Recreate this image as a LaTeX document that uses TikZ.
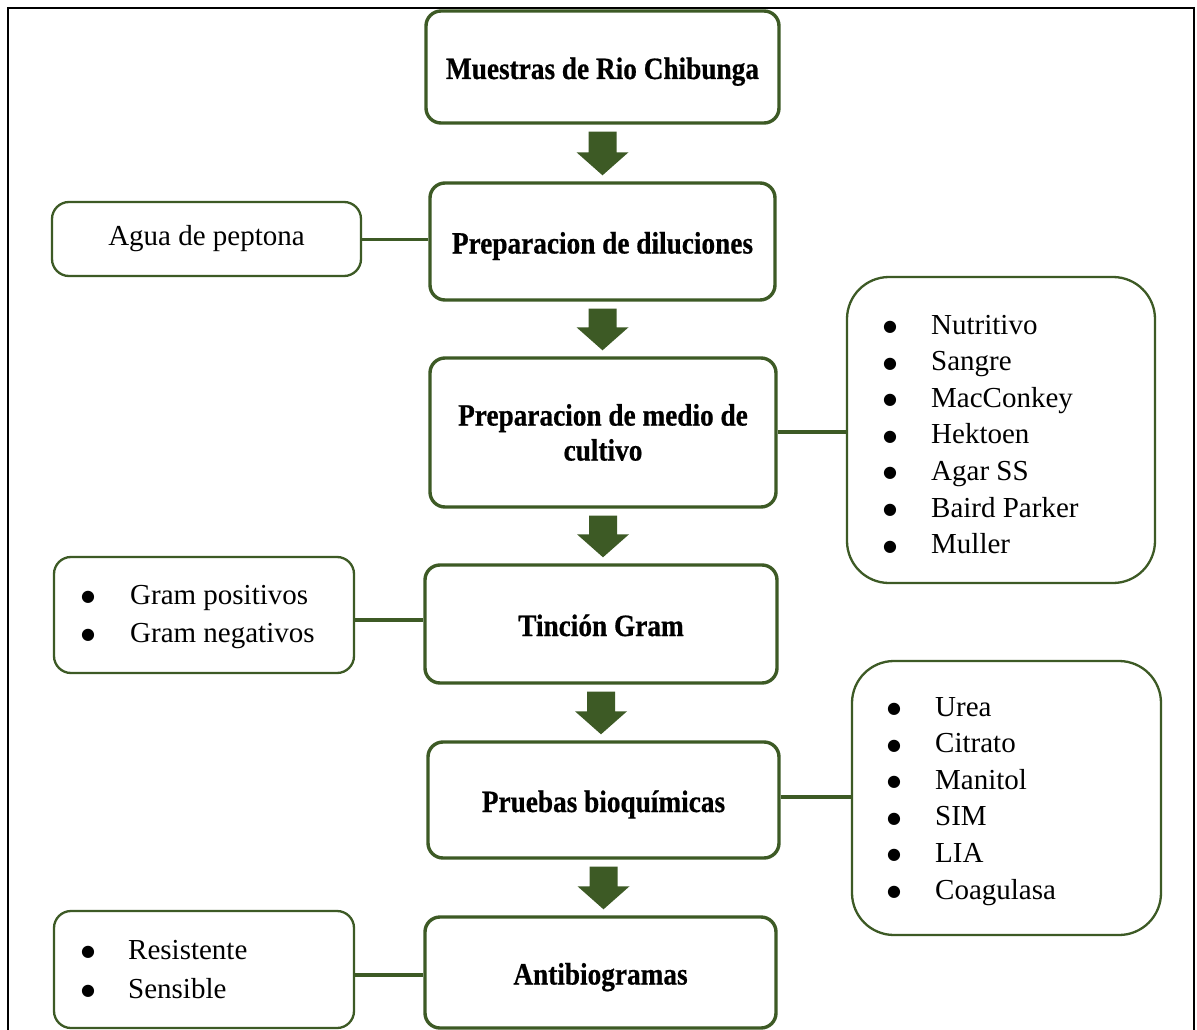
\documentclass[tikz,border=0pt]{standalone}
\usepackage{fontspec}
\setmainfont{Liberation Serif}
\newfontfamily\hdfont{Liberation Serif}[FakeStretch=0.88,FakeBold=0.6]
\newfontfamily\blt{DejaVu Sans}
\usetikzlibrary{calc}
\definecolor{grn}{RGB}{61,90,37}
\newcommand\itm[2]{\makebox[#1][l]{\raisebox{2.5pt}{\blt\fontsize{16}{16}\selectfont ●}}#2}
\newcommand\blockarr[2]{%
 \fill[grn] let \p1=(#1.south), \p2=(#2.north) in
 (\x1-14pt,\y1-7pt) -- (\x1+14pt,\y1-7pt) -- (\x1+14pt,\y2+29pt) -- (\x1+26pt,\y2+29pt)
 -- (\x1,\y2+6pt) -- (\x1-26pt,\y2+29pt) -- (\x1-14pt,\y2+29pt) -- cycle;}
\begin{document}
\begin{tikzpicture}[x=1pt,y=-1pt,
 mainbox/.style={draw=grn, line width=3.4pt, rounded corners=15pt, inner sep=0pt, align=center,
   font=\hdfont\bfseries\fontsize{31}{35}\selectfont},
 oneline/.style={text height=24pt, text depth=0pt},
 sidebox/.style={draw=grn, line width=2.3pt, rounded corners=17pt, inner sep=0pt,
   font=\fontsize{29}{34}\selectfont},
 bigbox/.style={sidebox, rounded corners=42pt},
 lst/.style={anchor=base west, inner sep=0pt, font=\fontsize{29}{#1}\selectfont},
 link/.style={draw=grn, line width=3.8pt},
 frm/.style={draw=black, line width=2.3pt}]
\useasboundingbox (0,0) rectangle (1197,1030);
\fill[white] (0,0) rectangle (1197,1030);
\draw[frm] (8,1032) -- (8,8) -- (1194,8) -- (1194,1032);

% main column
\node[mainbox, oneline, minimum width=353pt, minimum height=112pt] (b1) at (602.5,67) {Muestras de Rio Chibunga};
\node[mainbox, oneline, minimum width=345pt, minimum height=117pt] (b2) at (602.5,241.5) {Preparacion de diluciones};
\node[mainbox, minimum width=346pt, minimum height=149pt] (b3) at (603,432.5) {Preparacion de medio de\\cultivo};
\node[mainbox, oneline, minimum width=352pt, minimum height=118pt] (b4) at (601,624) {Tinción Gram};
\node[mainbox, oneline, minimum width=351pt, minimum height=116pt] (b5) at (603.5,800) {Pruebas bioquímicas};
\node[mainbox, oneline, minimum width=351pt, minimum height=111pt] (b6) at (600.5,972.5) {Antibiogramas};

\blockarr{b1}{b2}
\blockarr{b2}{b3}
\blockarr{b3}{b4}
\blockarr{b4}{b5}
\blockarr{b5}{b6}

% side boxes
\node[sidebox, minimum width=309pt, minimum height=74pt] (agua) at (206.5,239) {Agua de peptona};
\node[bigbox, minimum width=308pt, minimum height=306pt] (nutr) at (1001,430) {};
\node[sidebox, minimum width=300pt, minimum height=116pt] (gram) at (204,615) {};
\node[bigbox, minimum width=309pt, minimum height=274pt] (urea) at (1006.5,798) {};
\node[sidebox, minimum width=300pt, minimum height=117pt] (res) at (204,969.5) {};

% lists
\node[lst=36.6pt] (nutrlist) at (883,334) {\begin{tabular}[t]{@{}l@{}}
 \itm{48pt}{Nutritivo}\\ \itm{48pt}{Sangre}\\ \itm{48pt}{MacConkey}\\ \itm{48pt}{Hektoen}\\
 \itm{48pt}{Agar SS}\\ \itm{48pt}{Baird Parker}\\ \itm{48pt}{Muller}\end{tabular}};
\node[lst=36.6pt] (urealist) at (887,716) {\begin{tabular}[t]{@{}l@{}}
 \itm{48pt}{Urea}\\ \itm{48pt}{Citrato}\\ \itm{48pt}{Manitol}\\ \itm{48pt}{SIM}\\
 \itm{48pt}{LIA}\\ \itm{48pt}{Coagulasa}\end{tabular}};
\node[lst=38pt] (gramlist) at (81,604) {\begin{tabular}[t]{@{}l@{}}
 \itm{49pt}{Gram positivos}\\ \itm{49pt}{Gram negativos}\end{tabular}};
\node[lst=39pt] (reslist) at (81,959) {\begin{tabular}[t]{@{}l@{}}
 \itm{47pt}{Resistente}\\ \itm{47pt}{Sensible}\end{tabular}};

% connectors
\coordinate (yagua) at (0,239.5);
\coordinate (ynutr) at (0,432);
\coordinate (ygram) at (0,620);
\coordinate (yurea) at (0,797);
\coordinate (yres) at (0,975);
\draw[link] (agua.east |- yagua) -- (b2.west |- yagua);
\draw[link] (b3.east |- ynutr) -- (nutr.west |- ynutr);
\draw[link] (gram.east |- ygram) -- (b4.west |- ygram);
\draw[link] (b5.east |- yurea) -- (urea.west |- yurea);
\draw[link] (res.east |- yres) -- (b6.west |- yres);
\end{tikzpicture}
\end{document}
